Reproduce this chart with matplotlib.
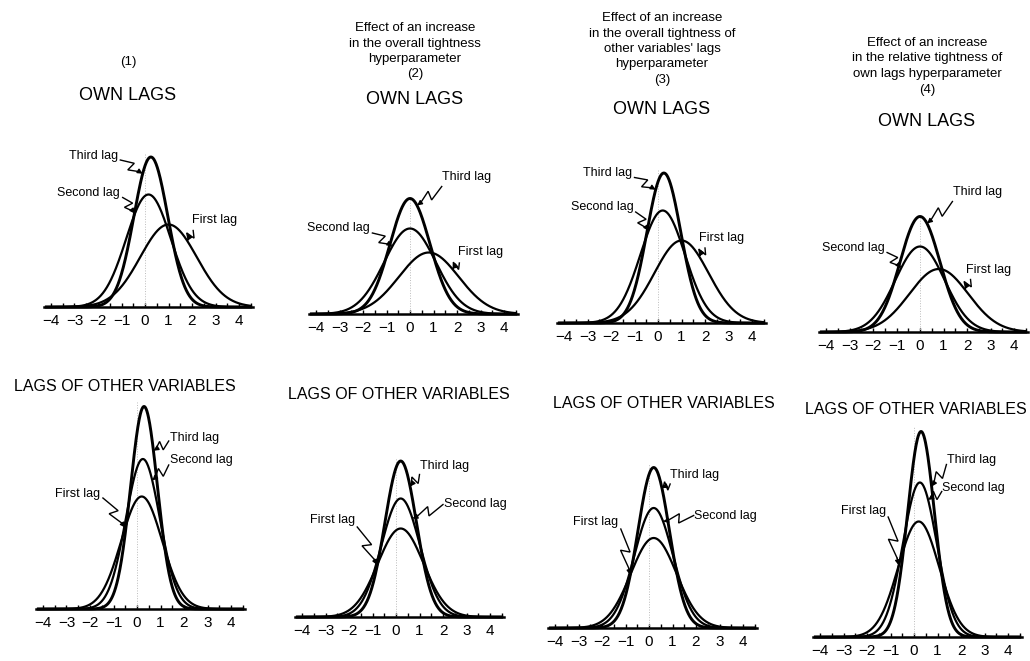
import matplotlib
matplotlib.use('Agg')
import matplotlib.pyplot as plt
import numpy as np

plt.rcParams['font.family'] = ['Liberation Sans', 'DejaVu Sans']

# prior curves: (mean, spread, peak height) for
# first, second, third lag in each panel
lag_names = ['First lag', 'Second lag', 'Third lag']

own_means = [[1.0, 0.15, 0.25], [0.8, 0.0, 0.0], [1.0, 0.2, 0.25], [0.8, 0.0, 0.0]]
own_sds = [[1.2, 0.95, 0.72], [1.27, 1.1, 0.85], [1.15, 0.95, 0.72], [1.25, 1.05, 0.85]]
own_peaks = [[0.55, 0.75, 1.0], [0.41, 0.57, 0.77], [0.55, 0.75, 1.0], [0.42, 0.57, 0.77]]

oth_means = [[0.2, 0.25, 0.3], [0.2, 0.2, 0.2], [0.2, 0.2, 0.2], [0.2, 0.25, 0.3]]
oth_sds = [[0.87, 0.72, 0.57], [0.97, 0.82, 0.67], [0.97, 0.82, 0.67], [0.87, 0.72, 0.57]]
oth_peaks = [[0.75, 1.0, 1.35], [0.59, 0.79, 1.04], [0.6, 0.8, 1.07], [0.77, 1.03, 1.37]]

tick_vals = list(range(-4, 5))
tick_labels = [('\u2212' + str(-v)) if v < 0 else str(v) for v in tick_vals]

headers = [
    ['(1)'],
    ['Effect of an increase', 'in the overall tightness', 'hyperparameter', '(2)'],
    ['Effect of an increase', 'in the overall tightness of', "other variables' lags",
     'hyperparameter', '(3)'],
    ['Effect of an increase', 'in the relative tightness of', 'own lags hyperparameter', '(4)'],
]

# layout (pixels)
W, H = 1030, 661
UX, UY = 23.5, 150.0
XL, XR = 4.3, 4.6
YB, YT = 0.08, 1.45

top_zero = [(145, 307), (410, 314), (658, 323), (920, 332)]
bot_zero = [(137, 609), (396, 617), (649, 628), (914, 637)]
header_x = [128, 415, 662, 927]
header_y0 = [62, 28, 18, 43]
header_dy = 15.5
own_title_y = [95, 100, 110, 122]
oth_title = [(125, 387), (399, 395), (664, 403), (916, 410)]

# label layout: (lag index, text x, text y, ha, leader start x, start y, target x)
own_labels = [
    [(2, -1.15, 1.01, 'right', -1.05, 0.98, -0.1),
     (1, -1.06, 0.76, 'right', -0.95, 0.73, -0.43),
     (0, 2.0, 0.58, 'left', 2.05, 0.51, 1.8)],
    [(2, 1.37, 0.91, 'left', 1.35, 0.85, 0.3),
     (1, -1.7, 0.57, 'right', -1.6, 0.54, -0.75),
     (0, 2.05, 0.41, 'left', 2.1, 0.34, 1.8)],
    [(2, -1.1, 1.0, 'right', -1.0, 0.97, -0.1),
     (1, -1.05, 0.77, 'right', -0.95, 0.74, -0.4),
     (0, 1.75, 0.57, 'left', 2.0, 0.5, 1.75)],
    [(2, 1.4, 0.93, 'left', 1.38, 0.87, 0.3),
     (1, -1.5, 0.56, 'right', -1.4, 0.53, -0.8),
     (0, 1.95, 0.41, 'left', 2.15, 0.35, 1.9)],
]
oth_labels = [
    [(2, 1.4, 1.14, 'left', 1.35, 1.12, 0.7),
     (1, 1.4, 0.99, 'left', 1.35, 0.96, 0.65),
     (0, -1.57, 0.77, 'right', -1.45, 0.74, -0.5)],
    [(2, 1.0, 1.01, 'left', 1.0, 0.95, 0.6),
     (1, 2.05, 0.75, 'left', 2.0, 0.75, 0.7),
     (0, -1.75, 0.65, 'right', -1.65, 0.6, -0.8)],
    [(2, 0.9, 1.02, 'left', 0.9, 0.96, 0.55),
     (1, 1.93, 0.75, 'left', 1.9, 0.75, 0.6),
     (0, -1.3, 0.71, 'right', -1.2, 0.66, -0.8)],
    [(2, 1.4, 1.18, 'left', 1.38, 1.15, 0.75),
     (1, 1.2, 0.99, 'left', 1.18, 0.97, 0.6),
     (0, -1.2, 0.84, 'right', -1.1, 0.8, -0.65)],
]

fig = plt.figure(figsize=(W / 100, H / 100), dpi=100)


def curve(x, m, s, h):
    return h * np.exp(-(x - m) ** 2 / (2 * s ** 2))


def make_axes(x0, yb):
    left = x0 - XL * UX
    right = x0 + XR * UX
    bot = yb + YB * UY
    top = yb - YT * UY
    ax = fig.add_axes([left / W, 1 - bot / H, (right - left) / W, (bot - top) / H])
    ax.set_xlim(-XL, XR)
    ax.set_ylim(-YB, YT)
    for side in ['top', 'right', 'left']:
        ax.spines[side].set_visible(False)
    ax.spines['bottom'].set_position(('data', 0))
    ax.spines['bottom'].set_linewidth(1.8)
    ax.set_yticks([])
    ax.set_xticks(tick_vals)
    ax.set_xticklabels(tick_labels, fontsize=11)
    ax.set_xticks(np.arange(-4, 4.6, 0.5), minor=True)
    ax.tick_params(axis='x', which='both', direction='in', length=3, width=1, pad=5)
    ax.patch.set_visible(False)
    return ax


def leader(ax, sx, sy, ex, ey):
    # lightning-style leader, built in pixel units then mapped back to data
    p0 = np.array([sx * UX, sy * UY])
    p1 = np.array([ex * UX, ey * UY])
    d = p1 - p0
    n = np.array([-d[1], d[0]]) / (np.hypot(*d) + 1e-9)
    a = p0 + 0.52 * d + 4.5 * n
    b = p0 + 0.44 * d - 4.5 * n
    end = p0 + 0.85 * d
    pts = np.array([p0, a, b, end])
    ax.plot(pts[:, 0] / UX, pts[:, 1] / UY, color='black', lw=1.0,
            solid_joinstyle='miter')
    ax.annotate('', xy=(ex, ey), xytext=(end[0] / UX, end[1] / UY),
                arrowprops=dict(arrowstyle='-|>', color='black', lw=1.0,
                                mutation_scale=7, shrinkA=0, shrinkB=0))


def draw_panel(ax, means, sds, peaks, labels):
    x = np.linspace(-4.2, 4.5, 500)
    ax.plot([0, 0], [0, max(peaks) * 1.02], color='#bbbbbb', lw=0.7, ls=':')
    for k in range(3):
        lw = 2.1 if k == 2 else 1.6
        ax.plot(x, curve(x, means[k], sds[k], peaks[k]), color='black', lw=lw)
    for k, tx, ty, ha, sx, sy, gx in labels:
        ax.text(tx, ty, lag_names[k], fontsize=9, ha=ha, va='center')
        gy = curve(gx, means[k], sds[k], peaks[k])
        leader(ax, sx, sy, gx, gy)


for i in range(4):
    ax = make_axes(*top_zero[i])
    draw_panel(ax, own_means[i], own_sds[i], own_peaks[i], own_labels[i])
    ax = make_axes(*bot_zero[i])
    draw_panel(ax, oth_means[i], oth_sds[i], oth_peaks[i], oth_labels[i])

    for j, line in enumerate(headers[i]):
        fig.text(header_x[i] / W, 1 - (header_y0[i] + j * header_dy) / H, line,
                 fontsize=9.5, ha='center', va='center')
    fig.text(header_x[i] / W, 1 - own_title_y[i] / H, 'OWN LAGS',
             fontsize=13, ha='center', va='center')
    fig.text(oth_title[i][0] / W, 1 - oth_title[i][1] / H, 'LAGS OF OTHER VARIABLES',
             fontsize=11.5, ha='center', va='center')

fig.savefig('out.png', dpi=100)
